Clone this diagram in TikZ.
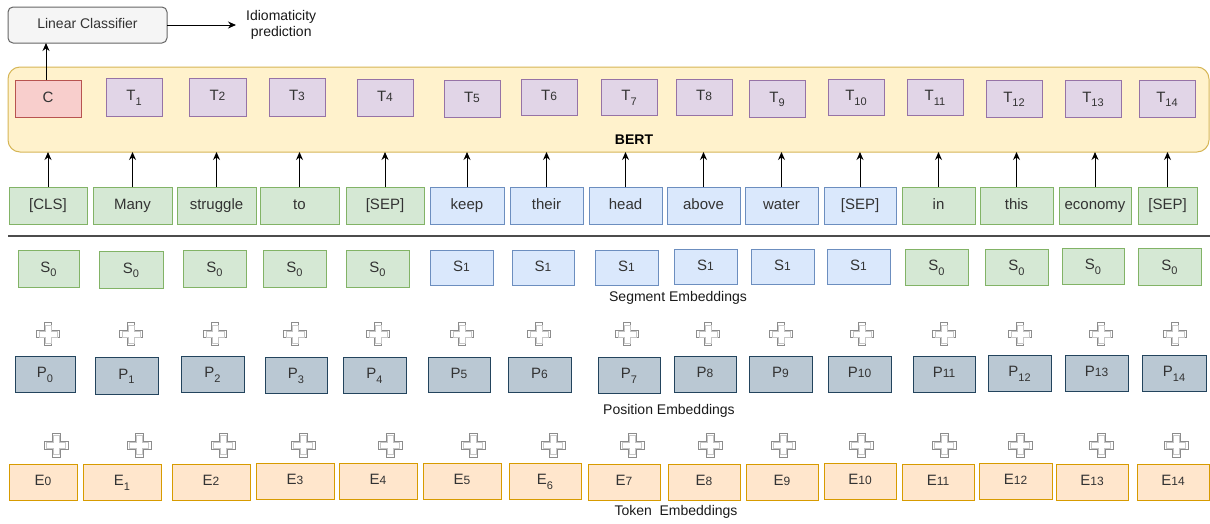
\documentclass[tikz,border=0pt]{standalone}
\usepackage{fontspec}
\setmainfont{Liberation Sans}
\usetikzlibrary{arrows.meta}
\definecolor{txt}{HTML}{333333}
\definecolor{gfill}{HTML}{D5E8D4}\definecolor{gline}{HTML}{82B366}
\definecolor{bfill}{HTML}{DAE8FC}\definecolor{bline}{HTML}{6C8EBF}
\definecolor{tfill}{HTML}{E1D5E7}\definecolor{tline}{HTML}{9673A6}
\definecolor{cfill}{HTML}{F8CECC}\definecolor{cline}{HTML}{B85450}
\definecolor{pfill}{HTML}{BAC8D3}\definecolor{pline}{HTML}{23445D}
\definecolor{efill}{HTML}{FFE6CC}\definecolor{eline}{HTML}{D79B00}
\definecolor{yfill}{HTML}{FFF2CC}\definecolor{yline}{HTML}{D6B656}
\definecolor{lfill}{HTML}{F5F5F5}\definecolor{lline}{HTML}{666666}
\newcommand\fs{\fontsize{14}{16}\selectfont}
\newcommand\fb{\fontsize{15}{17}\selectfont}
\newcommand\lsub[1]{\raisebox{-0.3em}{\fontsize{11}{11}\selectfont #1}}
\newcommand\bsub[1]{{\fontsize{12}{12}\selectfont #1}}
\newcommand\bx[7]{%
 \pgfmathsetmacro\bxcx{(#3+#5)/2}\pgfmathsetmacro\bxcy{(#4+#6)/2}%
 \pgfmathsetmacro\bxw{#5-#3}\pgfmathsetmacro\bxh{#6-#4}%
 \node[#1, minimum width=\bxw pt, minimum height=\bxh pt] (#2) at (\bxcx,\bxcy) {#7};}
\newcommand\crosspath{(-4,-12) -- (4,-12) -- (4,-4) -- (12,-4) -- (12,4) -- (4,4) -- (4,12) -- (-4,12) -- (-4,4) -- (-12,4) -- (-12,-4) -- (-4,-4) -- cycle}
\tikzset{
 box/.style={draw, inner sep=0pt, outer sep=0pt, line width=1pt, font=\fb, text=txt, text height=10.5pt, text depth=3pt},
 tg/.style={box, fill=gfill, draw=gline},
 tb/.style={box, fill=bfill, draw=bline},
 tt/.style={box, fill=tfill, draw=tline},
 tc/.style={box, fill=cfill, draw=cline},
 tp/.style={box, fill=pfill, draw=pline},
 te/.style={box, fill=efill, draw=eline},
 arr/.style={line width=1pt, -{Stealth[length=8pt,width=7pt]}},
 lbl/.style={font=\fs, text=black!90, inner sep=0pt},
 plussign/.pic={
   \draw[draw=black!45, fill=white, line width=1pt] \crosspath;
   \draw[draw=black!22, line width=0.6pt, scale=0.8] \crosspath;}
}
\begin{document}
\begin{tikzpicture}[x=1pt,y=-1pt]
\useasboundingbox (0,0) rectangle (1210,523);
% classifier
\bx{box, font=\fs, fill=lfill, draw=lline, rounded corners=5pt}{lc}{8}{7}{167}{43}{Linear Classifier}
\node[font=\fs, text=black!90, align=center, anchor=west, inner xsep=10pt, inner ysep=0pt] (pred) at (236,25) {Idiomaticity\\prediction};
\draw[arr] (lc.east) -- (pred.west);
% BERT
\bx{box, fill=yfill, draw=yline, rounded corners=12pt}{bert}{8}{67}{1209}{152}{}
\node[font=\fs\bfseries, inner sep=0pt] (bertlbl) at (634,140) {BERT};
\bx{tc}{c}{15}{80}{81}{117}{C}
\bx{tt}{t1}{106}{78}{162}{116}{T\lsub{1}}
\bx{tt}{t2}{189}{78}{246}{116}{T\bsub{2}}
\bx{tt}{t3}{269}{78}{325}{116}{T\bsub{3}}
\bx{tt}{t4}{357}{79}{413}{116}{T\bsub{4}}
\bx{tt}{t5}{444}{80}{500}{117}{T\bsub{5}}
\bx{tt}{t6}{521}{79}{577}{115}{T\bsub{6}}
\bx{tt}{t7}{601}{79}{657}{115}{T\lsub{7}}
\bx{tt}{t8}{676}{79}{732}{115}{T\bsub{8}}
\bx{tt}{t9}{749}{80}{805}{117}{T\lsub{9}}
\bx{tt}{t10}{828}{79}{884}{115}{T\lsub{10}}
\bx{tt}{t11}{907}{79}{963}{115}{T\lsub{11}}
\bx{tt}{t12}{986}{80}{1042}{117}{T\lsub{12}}
\bx{tt}{t13}{1065}{80}{1121}{117}{T\lsub{13}}
\bx{tt}{t14}{1139}{80}{1195}{117}{T\lsub{14}}
\draw[arr] ([xshift=-2pt]c.north) -- ([xshift=-2pt]c.north |- lc.south);
% tokens
\bx{tg}{k0}{9}{187}{87}{224}{[CLS]}
\bx{tg}{k1}{93}{187}{172}{224}{Many}
\bx{tg}{k2}{177}{187}{256}{224}{struggle}
\bx{tg}{k3}{260}{187}{339}{224}{to}
\bx{tg}{k4}{346}{187}{424}{224}{[SEP]}
\bx{tb}{k5}{430}{187}{504}{224}{keep}
\bx{tb}{k6}{510}{187}{583}{224}{their}
\bx{tb}{k7}{589}{187}{662}{224}{head}
\bx{tb}{k8}{667}{187}{740}{224}{above}
\bx{tb}{k9}{745}{187}{818}{224}{water}
\bx{tb}{k10}{824}{187}{896}{224}{[SEP]}
\bx{tg}{k11}{902}{187}{975}{224}{in}
\bx{tg}{k12}{980}{187}{1053}{224}{this}
\bx{tg}{k13}{1059}{187}{1131}{224}{economy}
\bx{tg}{k14}{1138}{187}{1197}{224}{[SEP]}
\foreach \i in {0,...,14} {\draw[arr] (k\i.north) -- (k\i.north |- bert.south);}
% separator
\coordinate (sepl) at (8,236);
\coordinate (sepr) at (1210,236);
\draw[line width=1.6pt, black!70] (sepl) -- (sepr);
% segment
\bx{tg}{s0}{18}{250}{79}{287}{S\lsub{0}}
\bx{tg}{s1}{99}{251}{163}{288}{S\lsub{0}}
\bx{tg}{s2}{183}{250}{246}{287}{S\lsub{0}}
\bx{tg}{s3}{263}{250}{326}{287}{S\lsub{0}}
\bx{tg}{s4}{346}{250}{409}{287}{S\lsub{0}}
\bx{tb}{s5}{430}{250}{493}{285}{S\bsub{1}}
\bx{tb}{s6}{512}{250}{574}{285}{S\bsub{1}}
\bx{tb}{s7}{595}{250}{658}{285}{S\bsub{1}}
\bx{tb}{s8}{674}{249}{737}{284}{S\bsub{1}}
\bx{tb}{s9}{751}{249}{814}{284}{S\bsub{1}}
\bx{tb}{s10}{827}{249}{890}{284}{S\bsub{1}}
\bx{tg}{s11}{905}{249}{968}{285}{S\lsub{0}}
\bx{tg}{s12}{985}{249}{1048}{285}{S\lsub{0}}
\bx{tg}{s13}{1062}{248}{1124}{284}{S\lsub{0}}
\bx{tg}{s14}{1138}{248}{1201}{285}{S\lsub{0}}
\node[lbl] (seglbl) at (678,298) {Segment Embeddings};
% plus signs row 1
\foreach \x in {48,131,215,295,378,462,539,627,708,781,862,944,1020,1101,1175} {\pic[scale=0.95] at (\x,334) {plussign};}
% position
\bx{tp}{p0}{15}{356}{75}{392}{P\lsub{0}}
\bx{tp}{p1}{95}{357}{158}{394}{P\lsub{1}}
\bx{tp}{p2}{181}{356}{244}{392}{P\lsub{2}}
\bx{tp}{p3}{265}{357}{327}{393}{P\lsub{3}}
\bx{tp}{p4}{343}{357}{406}{393}{P\lsub{4}}
\bx{tp}{p5}{428}{357}{490}{392}{P\bsub{5}}
\bx{tp}{p6}{508}{357}{571}{392}{P\bsub{6}}
\bx{tp}{p7}{598}{357}{660}{393}{P\lsub{7}}
\bx{tp}{p8}{674}{356}{736}{392}{P\bsub{8}}
\bx{tp}{p9}{749}{356}{812}{392}{P\bsub{9}}
\bx{tp}{p10}{828}{356}{891}{392}{P\bsub{10}}
\bx{tp}{p11}{913}{356}{975}{392}{P\bsub{11}}
\bx{tp}{p12}{988}{355}{1051}{391}{P\lsub{12}}
\bx{tp}{p13}{1065}{355}{1128}{391}{P\bsub{13}}
\bx{tp}{p14}{1142}{355}{1206}{391}{P\lsub{14}}
\node[lbl] (poslbl) at (669,411) {Position Embeddings};
% plus signs row 2
\foreach \x in {56,139,223,303,390,473,553,632,710,783,861,944,1020,1101,1176} {\pic at (\x,445) {plussign};}
% token embeddings
\bx{te}{e0}{9}{464}{77}{500}{E\bsub{0}}
\bx{te}{e1}{83}{464}{161}{500}{E\lsub{1}}
\bx{te}{e2}{172}{464}{250}{500}{E\bsub{2}}
\bx{te}{e3}{256}{463}{334}{499}{E\bsub{3}}
\bx{te}{e4}{339}{463}{417}{499}{E\bsub{4}}
\bx{te}{e5}{423}{463}{501}{499}{E\bsub{5}}
\bx{te}{e6}{509}{463}{581}{499}{E\lsub{6}}
\bx{te}{e7}{588}{464}{660}{500}{E\bsub{7}}
\bx{te}{e8}{668}{464}{740}{500}{E\bsub{8}}
\bx{te}{e9}{746}{464}{818}{500}{E\bsub{9}}
\bx{te}{e10}{824}{463}{896}{499}{E\bsub{10}}
\bx{te}{e11}{902}{464}{974}{500}{E\bsub{11}}
\bx{te}{e12}{979}{463}{1052}{499}{E\bsub{12}}
\bx{te}{e13}{1056}{464}{1128}{500}{E\bsub{13}}
\bx{te}{e14}{1137}{464}{1209}{500}{E\bsub{14}}
\node[lbl] (toklbl) at (676,512) {Token\ \ Embeddings};
\end{tikzpicture}
\end{document}
